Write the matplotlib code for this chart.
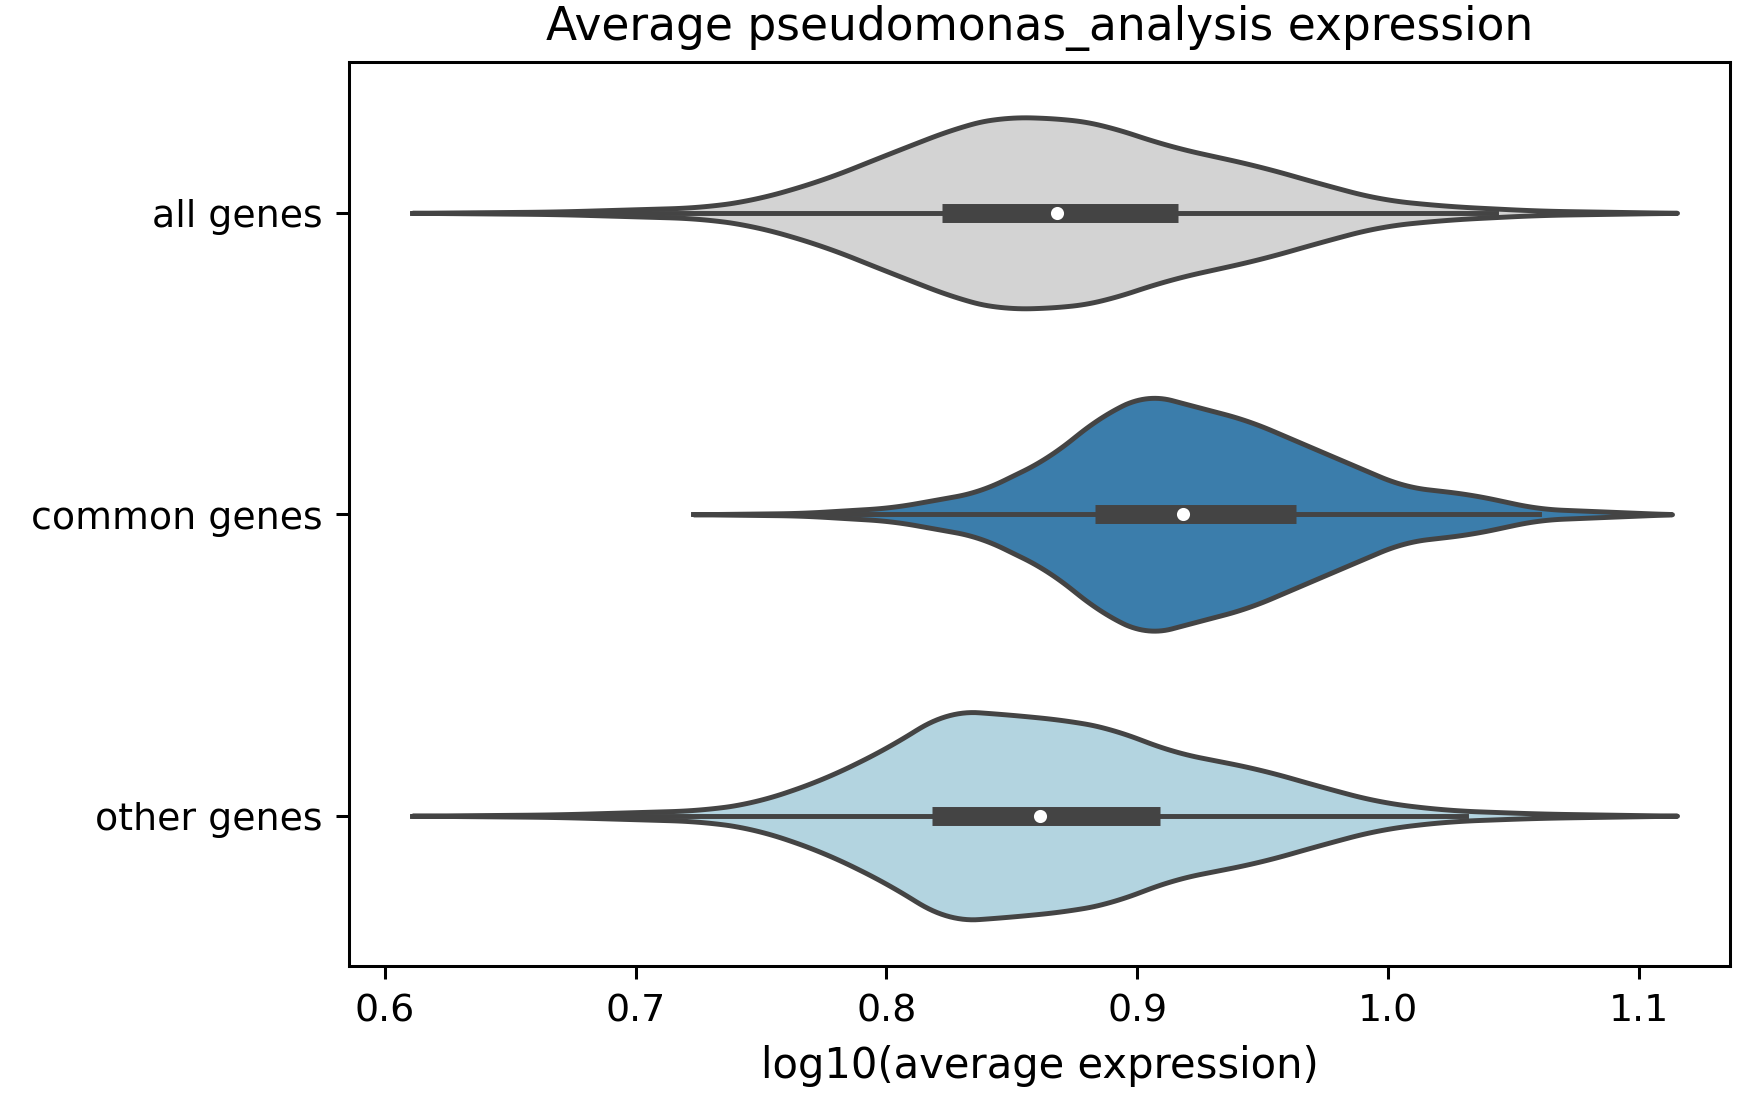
import numpy as np
import matplotlib.pyplot as plt

categories = ["all genes", "common genes", "other genes"]
colors = ["#d3d3d3", "#3b7dab", "#b3d4e0"]

# violin outline: log10 expression grid and half-width (category units)
all_x = [0.611, 0.668, 0.726, 0.748, 0.775, 0.802, 0.829, 0.846, 0.873, 0.886, 0.913, 0.949, 0.975, 0.997, 1.024, 1.060, 1.115]
all_w = [0.0, 0.004, 0.018, 0.044, 0.11, 0.20, 0.287, 0.32, 0.312, 0.294, 0.22, 0.154, 0.092, 0.044, 0.022, 0.007, 0.0]
common_x = [0.723, 0.766, 0.802, 0.837, 0.864, 0.886, 0.904, 0.922, 0.944, 0.980, 1.006, 1.033, 1.060, 1.113]
common_w = [0.0, 0.004, 0.022, 0.074, 0.184, 0.33, 0.40, 0.36, 0.312, 0.184, 0.092, 0.066, 0.018, 0.0]
other_x = [0.611, 0.668, 0.726, 0.748, 0.775, 0.802, 0.824, 0.846, 0.873, 0.891, 0.913, 0.949, 0.975, 0.997, 1.024, 1.060, 1.115]
other_w = [0.0, 0.004, 0.018, 0.044, 0.121, 0.232, 0.35, 0.338, 0.316, 0.287, 0.213, 0.154, 0.092, 0.044, 0.018, 0.007, 0.0]

q1 = [0.822, 0.883, 0.818]
median = [0.868, 0.918, 0.861]
q3 = [0.916, 0.963, 0.909]
whisk_lo = [0.611, 0.723, 0.611]
whisk_hi = [1.043, 1.060, 1.031]

profiles = [(all_x, all_w), (common_x, common_w), (other_x, other_w)]

fig, ax = plt.subplots(figsize=(6.4, 4.02), dpi=273)
fig.subplots_adjust(left=0.2, right=0.99, top=0.943, bottom=0.119)
edge = "#444444"
for i, (xs, ws) in enumerate(profiles):
    xs = np.array(xs); ws = np.array(ws)
    xx = np.linspace(xs[0], xs[-1], 300)
    ww = np.interp(xx, xs, ws)
    ww = np.convolve(ww, np.ones(15) / 15, mode="same")
    ww[0] = ww[-1] = 0
    ax.fill_between(xx, i - ww, i + ww, facecolor=colors[i], edgecolor=edge, linewidth=1.3, zorder=1)
    ax.plot([whisk_lo[i], whisk_hi[i]], [i, i], color=edge, lw=1.3, zorder=2)
    ax.plot([q1[i], q3[i]], [i, i], color=edge, lw=5, solid_capstyle="butt", zorder=3)
    ax.scatter([median[i]], [i], color="white", s=6, zorder=4)

ax.set_yticks(range(3))
ax.set_yticklabels(categories, fontsize=11)
ax.set_ylim(2.5, -0.5)
ax.set_xlim(0.586, 1.136)
ax.set_xticks([0.6, 0.7, 0.8, 0.9, 1.0, 1.1])
ax.tick_params(labelsize=10)
ax.set_xlabel("log10(average expression)", fontsize=11)
ax.set_title("Average pseudomonas_analysis expression", fontsize=12)
plt.savefig("out.png")
plt.close()
